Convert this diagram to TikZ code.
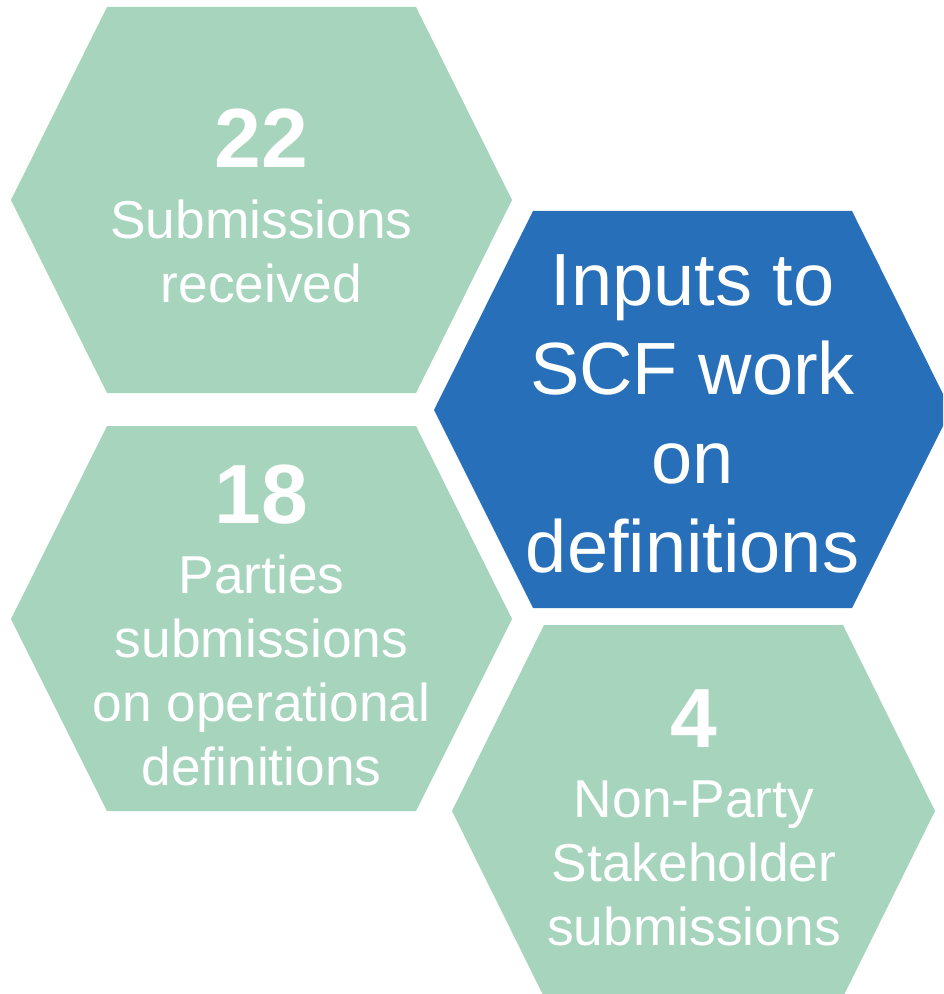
\documentclass[tikz,border=0pt]{standalone}
\usepackage{fontspec}
\setmainfont{Liberation Sans}
\definecolor{hexgreen}{HTML}{A6D4BC}
\definecolor{hexblue}{HTML}{276FB9}
\tikzset{
  greenhex/.style={fill=hexgreen},
  bluehex/.style={fill=hexblue},
  num/.style={text=white, font=\fontsize{63}{63}\selectfont\bfseries, inner sep=0pt, anchor=base},
  lbl/.style={text=white, font=\fontsize{40}{48}\selectfont, align=center, inner sep=0pt, anchor=base},
  biglbl/.style={text=white, font=\fontsize{55.5}{66.75}\selectfont, align=center, inner sep=0pt, anchor=base}
}

\begin{document}
\begin{tikzpicture}[x=0.75pt, y=-0.75pt]
    \useasboundingbox (0,0) rectangle (943,994);
    \clip (0,0) rectangle (943,994);
    % the four hexagons
    \fill[greenhex] (107,7) -- (416,7) -- (512,200) -- (416,393) -- (107,393) -- (11,200) -- cycle;
    \fill[bluehex] (533,211) -- (852,211) -- (951,410) -- (852,608) -- (533,608) -- (434,410) -- cycle;
    \fill[greenhex] (107,426) -- (416,426) -- (512,619) -- (416,811) -- (107,811) -- (11,619) -- cycle;
    \fill[greenhex] (544,625) -- (843,625) -- (935,811) -- (843,997) -- (544,997) -- (452,811) -- cycle;
    % texts (base = last line)
    \node[num] (n22) at (261.5,168) {22};
    \node[lbl] (t22) at (261.5,303) {Submissions\\received};
    \node[biglbl] (inputs) at (692.5,572) {Inputs to\\SCF work\\on\\definitions};
    \node[num] (n18) at (261.5,523) {18};
    \node[lbl] (t18) at (261.5,785) {Parties\\submissions\\on operational\\definitions};
    \node[num] (n4) at (694,747) {4};
    \node[lbl] (t4) at (694,945) {Non-Party\\Stakeholder\\submissions};
\end{tikzpicture}
\end{document}
